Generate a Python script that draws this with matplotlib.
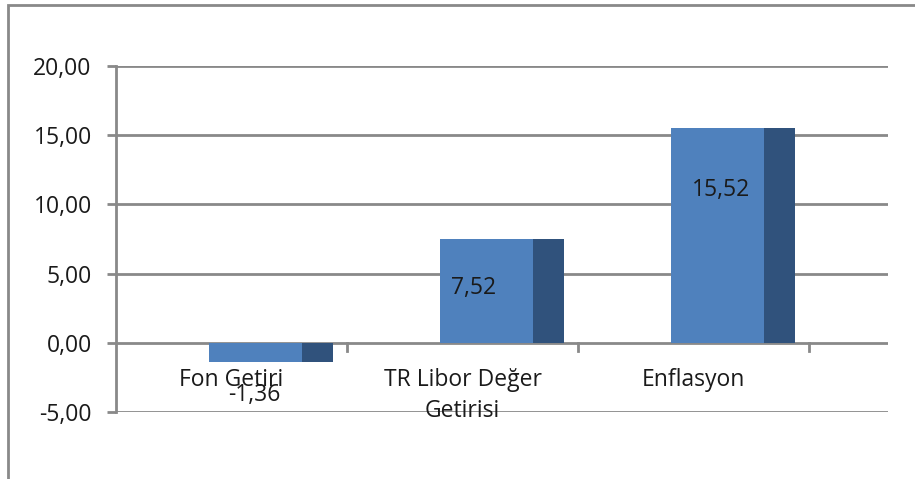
import matplotlib
matplotlib.use('Agg')
from matplotlib import pyplot as plt
from matplotlib.patches import Rectangle

categories = ['Fon Getiri', 'TR Libor Değer\nGetirisi', 'Enflasyon']
values = [-1.36, 7.52, 15.52]
value_labels = ['-1,36', '7,52', '15,52']
label_x = [0.1, 0.05, 0.12]
label_y = [-3.76, 3.97, 11.05]
yticks = [-5, 0, 5, 10, 15, 20]

front_color = '#4f81bd'
side_color = '#30527c'
grid_color = '#898989'
text_color = '#1a1a1a'

plt.rcParams['font.family'] = ['Open Sans', 'DejaVu Sans']

fig = plt.figure(figsize=(9.15, 4.79), dpi=100)
# outer chart frame
fig.patches.append(Rectangle((8 / 915, -0.1), 1.2, 1 - 5 / 479 + 0.1,
                             transform=fig.transFigure, fill=False,
                             edgecolor=grid_color, lw=2))

ax = fig.add_axes([116 / 915, 1 - 412 / 479, 772 / 915, 346 / 479])
ax.set_xlim(-0.5, -0.5 + 772 / 231)
ax.set_ylim(-5, 20)

for i, v in enumerate(values):
    ax.bar(i - 0.097, v, width=0.402, align='edge', color=front_color,
           zorder=3)
    ax.bar(i + 0.305, v, width=0.134, align='edge', color=side_color,
           zorder=3)
    ax.text(i + label_x[i], label_y[i], value_labels[i], ha='center',
            va='center', fontsize=16.5, color=text_color, zorder=5)
    ax.text(i, -1.85, categories[i], ha='center', va='top', fontsize=16.5,
            linespacing=1.36, color=text_color, zorder=5)

for y in yticks:
    ax.axhline(y, color=grid_color, lw=2, zorder=1)

# category separator ticks under the zero line
for xb in [0.5, 1.5, 2.5]:
    ax.plot([xb, xb], [0, -0.6], color=grid_color, lw=2, zorder=1)

for s in ['top', 'right', 'bottom']:
    ax.spines[s].set_visible(False)
ax.spines['left'].set_color(grid_color)
ax.spines['left'].set_linewidth(2)
ax.spines['left'].set_zorder(4)

ax.set_yticks(yticks)
ax.set_yticklabels([('%.2f' % y).replace('.', ',') for y in yticks])
ax.tick_params(axis='y', length=6.5, width=2, color=grid_color, pad=11,
               labelsize=16.5, labelcolor=text_color)
ax.set_xticks([])

fig.savefig('out.png', dpi=100)
